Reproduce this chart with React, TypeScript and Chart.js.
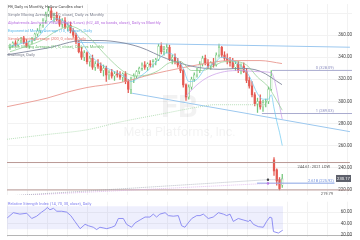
import React, { useEffect, useRef } from "react";
import { Chart, registerables } from "chart.js";

Chart.register(...registerables);

// ---------- daily candles (FB) ----------
const opens = [
  349, 351, 353, 351, 355, 357, 353, 350, 354, 357,
  361, 364, 369, 373, 379, 382, 376, 378, 374, 370,
  373, 367, 369, 364, 360, 354, 345, 340, 344, 336,
  339, 331, 334, 332, 328, 330, 324, 326, 323, 325,
  324, 322, 325, 318, 311, 320, 323, 327, 330, 333,
  331, 334, 333, 336, 338, 350, 345, 347, 349, 338,
  340, 336, 333, 328, 315, 304, 313, 320, 324, 328,
  334, 339, 335, 332, 335, 333, 342, 349, 342, 339,
  337, 335, 331, 334, 328, 332, 327, 319, 314, 306,
  298, 300, 295, 299, 300, 311, 247, 238, 229, 224,
];
const closes = [
  351, 353, 351, 355, 357, 353, 350, 354, 357, 361,
  364, 369, 373, 379, 382, 376, 378, 374, 370, 373,
  367, 369, 364, 360, 354, 345, 340, 344, 336, 339,
  331, 334, 332, 328, 330, 324, 326, 323, 325, 324,
  322, 325, 318, 311, 320, 323, 327, 330, 333, 331,
  334, 333, 336, 338, 350, 345, 347, 349, 338, 340,
  336, 333, 328, 315, 304, 313, 320, 324, 328, 334,
  339, 335, 332, 335, 333, 342, 349, 342, 339, 337,
  335, 331, 334, 328, 332, 327, 319, 314, 306, 298,
  300, 295, 299, 300, 311, 323, 237, 228, 221, 230.17,
];
const highs = [
  352, 354, 355, 356, 358, 359, 356, 355, 358, 362,
  366, 370, 375, 381, 386, 385, 380, 381, 377, 375,
  376, 371, 372, 366, 362, 355, 349, 346, 345, 341,
  342, 336, 338, 335, 333, 332, 328, 329, 327, 328,
  327, 326, 327, 320, 322, 325, 328, 331, 335, 336,
  335, 337, 338, 339, 352, 353, 350, 352, 351, 342,
  343, 339, 336, 329, 316, 315, 322, 326, 330, 336,
  341, 342, 338, 336, 339, 344, 352, 350, 345, 343,
  340, 339, 336, 336, 334, 335, 330, 322, 318, 308,
  303, 306, 301, 302, 313, 328, 249, 239, 231, 234,
];
const lows = [
  347, 349, 350, 350, 353, 352, 349, 348, 352, 355,
  359, 362, 367, 371, 377, 374, 372, 373, 368, 367,
  366, 364, 362, 358, 352, 344, 338, 337, 334, 332,
  329, 328, 330, 326, 323, 318, 320, 321, 319, 322,
  320, 318, 316, 308, 307, 317, 321, 325, 328, 329,
  328, 331, 331, 333, 337, 343, 342, 344, 337, 334,
  334, 331, 326, 313, 301, 302, 311, 318, 322, 326,
  332, 333, 330, 329, 331, 332, 340, 340, 337, 334,
  332, 330, 328, 326, 325, 326, 317, 312, 304, 296,
  290, 293, 291, 295, 298, 310, 233, 224, 219.79, 222,
];

// ---------- indicators (bar index, value) ----------
const sma50Idx = [-1.1, 13.5, 26.5, 32.7, 40, 47.3, 57, 66.5, 76.4, 83.6, 90.9, 98.9];
const sma50Val = [342.2, 348.3, 355.2, 355.2, 353.5, 349.1, 338.7, 331.7, 329.1, 330, 327.4, 315.2];

const sma200Idx = [-1.1, 13.5, 20.7, 28, 40, 52, 61.8, 69.1, 80, 90.9, 98.9];
const sma200Val = [295.2, 303, 308.3, 312.6, 317, 324.8, 330, 333.5, 337, 337, 334.3];

const ema10Idx = [0, 5, 10, 14, 17, 21, 24, 27, 30, 34, 38, 42, 44, 47, 51, 54, 57, 60, 63, 65, 68, 71, 74, 77, 80, 84, 87, 90, 92, 94, 95, 96, 97, 98, 99];
const ema10Val = [350, 353, 358, 370, 375, 370, 362, 350, 340, 332, 327, 322, 318, 322, 330, 338, 344, 341, 330, 318, 320, 330, 334, 340, 338, 332, 323, 307, 302, 302, 306, 294, 282, 272, 260];

const sma21Idx = [0, 6, 12, 17, 22, 26, 30, 34, 38, 42, 46, 50, 54, 58, 62, 66, 70, 74, 78, 82, 86, 90, 94, 96, 99];
const sma21Val = [345, 350, 356, 364, 368, 364, 355, 344, 334, 326, 323, 324, 328, 335, 336, 328, 328, 332, 336, 336, 333, 322, 313, 305, 292];

const vwapIdx = [64, 68, 72, 78, 84, 90, 95, 99];
const vwapVal = [305, 315, 322, 327, 328, 327, 326, 284];

// monthly projections
const sma21mIdx = [-1.1, 13.5, 28, 40, 54.5, 69.1, 74.5, 93];
const sma21mVal = [265.7, 270, 274.3, 281.3, 288.3, 295.2, 297, 297];
const sma50mIdx = [-1.1, 93.8, 99.3];
const sma50mVal = [214.3, 229.1, 229.1];
const vwapmIdx = [-1.1, 93.8, 99.3];
const vwapmVal = [214.2, 225.7, 225.7];

// drawings
const chanUpIdx = [24.4, 123.6];
const chanUpVal = [353.5, 349.1];
const chanLoIdx = [44.4, 123.6];
const chanLoVal = [307.4, 272.6];
const fibValues = [328.09, 289.03, 225.92];
const fibLabels = ["0 (328.09)", "1 (289.03)", "2.618 (225.92)"];
const fibStart = [95.3, 91.6, 89.8];
const fibEnd = [124.4, 124.4, 118];
const lowLevels = [244.61, 219.79];
const lowLabels = ["244.61: 2021 LOW", "219.79"];
const lastPrice = 230.17;
const priceTicks = [220, 240, 260, 280, 300, 320, 340, 360, 380];

// RSI
const rsiIdx = [-1.0, 1.2, 3.6, 6.1, 7.9, 9.7, 11.5, 12.7, 13.6, 14.5, 15.8, 17, 18.8, 20.6, 22.1, 23.6, 25.5, 27.3, 28.5, 30.3, 31.5, 32.7, 35.2, 37, 38.2, 39.4, 41.2, 42.4, 44.2, 45.5, 47.3, 49.1, 50.9, 52.1, 53.3, 54.5, 56.4, 57.6, 59.4, 61.2, 62.4, 63.6, 64.8, 66.1, 67.9, 69.1, 70.3, 72.1, 73.9, 75.8, 77.6, 78.8, 80, 81.2, 83, 84.8, 86.7, 87.3, 88.5, 90.3, 92.1, 93.3, 94.5, 95.2, 95.8, 97.6, 99.2];
const rsiVal = [49.9, 59, 56.5, 58, 48.9, 52.9, 60, 64, 68.1, 64, 66.6, 61.5, 61.5, 60, 53.9, 43.8, 31.2, 38.8, 36.3, 33.7, 29.7, 33.7, 31.2, 33.7, 36.3, 48.9, 48.9, 38.8, 33.7, 41.3, 46.4, 51.4, 51.4, 56.5, 51.4, 56.5, 59, 53.9, 52.9, 53.9, 36.3, 33.7, 41.3, 48.9, 53.9, 53.9, 56.5, 48.9, 51.4, 59, 56.5, 53.9, 56.5, 43.8, 48.9, 46.4, 43.8, 46.4, 38.8, 34.7, 33.7, 43.8, 51.4, 49.9, 26.2, 23.6, 28.7];
const rsiBandIdx = [-1.09, 99.3];
const rsiUpper = [70, 70];
const rsiLower = [30, 30];
const rsiTicks = [20, 40, 60];

const legendLines = [
  { text: "FB, Daily vs Monthly, Hollow Candles chart", color: "#4a4a4a" },
  { text: "Simple Moving Average (50, 0, close), Daily vs Monthly", color: "#7d8190" },
  { text: "Alphatrends Anchored VWAP (Highs/Lows) (hl2, 40, no bands, close), Daily vs Monthly", color: "#b86ee0" },
  { text: "Exponential Moving Average (10, 0, close), Daily", color: "#5ab9ea" },
  { text: "Simple Moving Average (200, 0, close), Daily", color: "#e4766e" },
  { text: "Simple Moving Average (21, 0, close), Daily vs Monthly", color: "#6fbf72" },
  { text: "Drawings, Daily", color: "#7d8190" },
];

const GREEN = "#74c67c";
const RED = "#e45a52";
const FONT = "Roboto";
const X_MIN = -1.091;
const X_MAX = 124.36;
const GRID = "#f2f2f2";

const pts = (xs: number[], ys: number[]) => xs.map((x, k) => ({ x, y: ys[k] }));

const xScale = () => ({
  type: "linear",
  min: X_MIN,
  max: X_MAX,
  offset: false,
  ticks: { display: false },
  grid: { color: GRID, drawTicks: false, offset: false },
  border: { display: false },
  afterBuildTicks: (ax: any) => {
    const t = [];
    for (let k = 0; k < 18; k++) t.push({ value: X_MIN + 7.2727 * k });
    ax.ticks = t;
  },
  afterFit: (ax: any) => {
    ax.height = 0;
  },
});

const line = (data: any, color: string, width = 1, extra: any = {}) => ({
  type: "line",
  data,
  borderColor: color,
  borderWidth: width,
  pointRadius: 0,
  fill: false,
  cubicInterpolationMode: "monotone",
  order: 1,
  ...extra,
});

export default function App() {
  const mainRef = useRef<HTMLCanvasElement>(null);
  const rsiRef = useRef<HTMLCanvasElement>(null);

  useEffect(() => {
    const idx = opens.map((_, i) => i);
    const up = idx.map((i) => closes[i] >= (i > 0 ? closes[i - 1] : opens[i]));
    const hollow = idx.map((i) => closes[i] > opens[i]);
    const col = idx.map((i) => (up[i] ? GREEN : RED));

    const overlay = {
      id: "overlay",
      beforeDatasetsDraw(chart: any) {
        const ctx = chart.ctx;
        const a = chart.chartArea;
        const cx = (a.left + a.right) / 2;
        ctx.save();
        ctx.fillStyle = "rgba(0,0,0,0.05)";
        ctx.textAlign = "center";
        ctx.textBaseline = "middle";
        ctx.font = `bold 31px ${FONT}`;
        ctx.fillText("FB", cx, 109);
        ctx.font = `12.5px ${FONT}`;
        ctx.fillText("Meta Platforms, Inc.", cx, 133);
        ctx.restore();
      },
      afterDatasetsDraw(chart: any) {
        const ctx = chart.ctx;
        const y = chart.scales.y;
        ctx.save();
        ctx.font = `4px ${FONT}`;
        ctx.textBaseline = "middle";
        ctx.textAlign = "left";
        legendLines.forEach((l, k) => {
          ctx.fillStyle = l.color;
          ctx.fillText(l.text, 8, 7 + 8 * k);
        });
        ctx.textAlign = "right";
        fibValues.forEach((v, k) => {
          ctx.fillStyle = k === 2 ? "#6f8fdc" : "#8d8fc0";
          ctx.fillText(fibLabels[k], 334, y.getPixelForValue(v) - 2.5);
        });
        ctx.fillStyle = "#555";
        ctx.fillText(lowLabels[0], 330, y.getPixelForValue(lowLevels[0]) + 4);
        ctx.fillText(lowLabels[1], 333, y.getPixelForValue(lowLevels[1]) + 4);
        const py = y.getPixelForValue(lastPrice);
        ctx.fillStyle = "#5d606b";
        ctx.fillRect(336, py - 3.5, 15, 7);
        ctx.fillStyle = "#fff";
        ctx.textAlign = "center";
        ctx.font = `4.2px ${FONT}`;
        ctx.fillText(lastPrice.toFixed(2), 343.5, py + 0.2);
        ctx.restore();
      },
    };

    const hLine = (x0: number, x1: number, v: number, color: string, width = 1) =>
      line(pts([x0, x1], [v, v]), color, width, { cubicInterpolationMode: "default", order: 2 });

    const main = new Chart(mainRef.current as HTMLCanvasElement, {
      type: "line",
      data: {
        datasets: [
          line(pts(ema10Idx, ema10Val), "#6cc8f0", 0.7),
          line(pts(sma21Idx, sma21Val), "#8ccd8e", 0.7),
          line(pts(vwapIdx, vwapVal), "#c99Ae8", 0.7),
          line(pts(sma50Idx, sma50Val), "#80879c", 0.9),
          line(pts(sma200Idx, sma200Val), "#e99790", 0.9),
          line(pts(sma21mIdx, sma21mVal), "#a8d8a9", 0.8, { borderDash: [1, 1] }),
          line(pts(sma50mIdx, sma50mVal), "#9aa0ad", 0.7, { borderDash: [1, 1], cubicInterpolationMode: "default" }),
          line(pts(vwapmIdx, vwapmVal), "#d9a8ea", 0.7, { borderDash: [1, 1], cubicInterpolationMode: "default" }),
          line(pts([sma50mIdx[1]], [sma50mVal[1]]), "#222", 0, { pointRadius: 1.2, pointBackgroundColor: "#222", pointBorderWidth: 0 }),
          line(pts([vwapmIdx[1]], [vwapmVal[1]]), "#b060e0", 0, { pointRadius: 1.2, pointBackgroundColor: "#b060e0", pointBorderWidth: 0 }),
          line(pts(chanUpIdx, chanUpVal), "#9cc8ef", 1, { cubicInterpolationMode: "default", order: 2 }),
          line(pts(chanLoIdx, chanLoVal), "#9cc8ef", 1, { cubicInterpolationMode: "default", order: 2 }),
          hLine(fibStart[0], fibEnd[0], fibValues[0], "#a9abcf"),
          hLine(fibStart[1], fibEnd[1], fibValues[1], "#a9abcf"),
          hLine(fibStart[2], fibEnd[2], fibValues[2], "#87a3e4"),
          hLine(X_MIN, 123.6, lowLevels[0], "#b99894"),
          hLine(X_MIN, 123.6, lowLevels[1], "#b99894"),
          {
            type: "bar",
            data: idx.map((i) => ({ x: i, y: [opens[i], closes[i]] })),
            backgroundColor: idx.map((i) => (hollow[i] ? "#ffffff" : col[i])),
            borderColor: col,
            borderWidth: idx.map((i) => (hollow[i] ? 0.55 : 0)),
            borderSkipped: false,
            barThickness: 1.6,
            grouped: false,
            order: 5,
          },
          {
            type: "bar",
            data: idx.map((i) => ({ x: i, y: [lows[i], highs[i]] })),
            backgroundColor: col,
            borderWidth: 0,
            barThickness: 0.6,
            grouped: false,
            order: 6,
          },
        ] as any,
      },
      options: {
        animation: false,
        responsive: false,
        events: [],
        layout: { padding: { left: 7, right: 8, top: 0, bottom: 0 } },
        plugins: { legend: { display: false }, tooltip: { enabled: false } },
        scales: {
          x: xScale() as any,
          y: {
            type: "linear",
            position: "right",
            min: 215.2,
            max: 388.26,
            beginAtZero: false,
            afterBuildTicks: (ax: any) => {
              ax.ticks = priceTicks.map((v) => ({ value: v }));
            },
            ticks: {
              mirror: true,
              padding: 0,
              color: "#4a4a4a",
              font: { size: 4.5, family: FONT },
              callback: (v: any) => (Number(v) >= 380 ? "" : Number(v).toFixed(2)),
            },
            grid: { color: GRID, drawTicks: false },
            border: { display: false },
            afterFit: (ax: any) => {
              ax.width = 0;
            },
          } as any,
        },
      },
      plugins: [overlay],
    });

    const rsiOverlay = {
      id: "rsiOverlay",
      afterDatasetsDraw(chart: any) {
        const ctx = chart.ctx;
        ctx.save();
        ctx.font = `4px ${FONT}`;
        ctx.textBaseline = "middle";
        ctx.fillStyle = "#7e7ef0";
        ctx.fillText("Relative Strength Index (14, 70, 30, close), Daily", 8, 5);
        ctx.restore();
      },
    };

    const rsi = new Chart(rsiRef.current as HTMLCanvasElement, {
      type: "line",
      data: {
        datasets: [
          {
            data: pts(rsiIdx, rsiVal),
            borderColor: "#8585f2",
            borderWidth: 0.9,
            pointRadius: 0,
            fill: false,
          },
          {
            data: pts(rsiBandIdx, rsiUpper),
            borderColor: "rgba(0,0,0,0)",
            borderWidth: 0,
            pointRadius: 0,
            fill: false,
          },
          {
            data: pts(rsiBandIdx, rsiLower),
            borderColor: "rgba(0,0,0,0)",
            borderWidth: 0,
            pointRadius: 0,
            fill: "-1",
            backgroundColor: "rgba(120,130,240,0.13)",
          },
        ] as any,
      },
      options: {
        animation: false,
        responsive: false,
        events: [],
        layout: { padding: { left: 7, right: 8, top: 0, bottom: 0 } },
        plugins: { legend: { display: false }, tooltip: { enabled: false } },
        scales: {
          x: xScale() as any,
          y: {
            type: "linear",
            position: "right",
            min: 16.2,
            max: 78.1,
            afterBuildTicks: (ax: any) => {
              ax.ticks = rsiTicks.map((v) => ({ value: v }));
            },
            ticks: {
              mirror: true,
              padding: 0,
              color: "#4a4a4a",
              font: { size: 4.5, family: FONT },
              callback: (v: any) => Number(v).toFixed(2),
            },
            grid: { color: (c: any) => (c.tick && c.tick.value === 20 ? "#b5b5b5" : GRID), drawTicks: false },
            border: { display: false },
            afterFit: (ax: any) => {
              ax.width = 0;
            },
          } as any,
        },
      },
      plugins: [rsiOverlay],
    });

    return () => {
      main.destroy();
      rsi.destroy();
    };
  }, []);

  return (
    <div style={{ position: "absolute", left: 0, top: 0, width: 360, height: 240, background: "#fff", overflow: "hidden" }}>
      <canvas ref={mainRef} width={360} height={199} style={{ position: "absolute", left: 0, top: 0, display: "block" }} />
      <canvas ref={rsiRef} width={360} height={41} style={{ position: "absolute", left: 0, top: 199, display: "block" }} />
    </div>
  );
}
